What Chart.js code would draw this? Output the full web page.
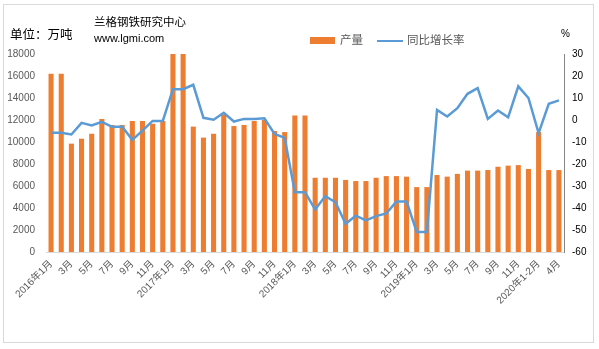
<!DOCTYPE html>
<html>
<head>
<meta charset="utf-8">
<script src="https://cdn.jsdelivr.net/npm/chart.js@4/dist/chart.umd.min.js"></script>
<style>
  html, body { margin:0; padding:0; background:#fff; }
  #wrap { position:relative; width:599px; height:349px; overflow:hidden; }
  #frame { position:absolute; left:3px; top:4px; width:589px; height:337px; border:1px solid #d9d9d9; pointer-events:none; }
  canvas { position:absolute; left:0; top:0; }
  .t { position:absolute; white-space:nowrap; font-family:"Noto Sans CJK SC","Liberation Sans",sans-serif; line-height:1; }
</style>
</head>
<body>
<div id="wrap">
  <canvas id="c" width="599" height="349"></canvas>
  <div id="frame"></div>
  <div class="t" style="left:10px;top:28px;font-size:12.5px;color:#000;">单位：万吨</div>
  <div class="t" style="left:94px;top:16px;font-size:11.5px;color:#000;">兰格钢铁研究中心</div>
  <div class="t" style="left:94px;top:33px;font-size:11px;color:#000;font-family:'Liberation Sans',sans-serif;">www.lgmi.com</div>
  <div style="position:absolute;left:310px;top:37px;width:25px;height:7px;background:#ED7D31;"></div>
  <div class="t" style="left:340px;top:34px;font-size:11.5px;color:#595959;">产量</div>
  <div style="position:absolute;left:377px;top:39.5px;width:26px;height:2.5px;background:#5B9BD5;"></div>
  <div class="t" style="left:407px;top:34px;font-size:11.5px;color:#595959;">同比增长率</div>
  <div class="t" style="left:561px;top:29px;font-size:10px;color:#000;font-family:'Liberation Sans',sans-serif;">%</div>
</div>
<script>
const categories = [
  "2016年1月","2月","3月","4月","5月","6月","7月","8月","9月","10月","11月","12月",
  "2017年1月","2月","3月","4月","5月","6月","7月","8月","9月","10月","11月","12月",
  "2018年1月","2月","3月","4月","5月","6月","7月","8月","9月","10月","11月","12月",
  "2019年1月","2月","3月","4月","5月","6月","7月","8月","9月","10月","11月","12月",
  "2020年1-2月","3月","4月"
];
const output = [
  16200,16200,9850,10300,10750,12100,11550,11550,11900,11900,11650,11900,
  18000,18000,11400,10400,10750,12500,11450,11550,11900,12000,11000,10900,
  12400,12400,6750,6750,6750,6550,6450,6450,6750,6900,6900,6850,
  5900,5900,7000,6850,7100,7400,7400,7450,7750,7850,7900,7550,
  10900,7450,7450
];
const growth = [
  -5.8,-5.8,-6.6,-1.3,-2.5,-0.8,-3.1,-3.1,-9.0,-4.8,-0.4,-0.4,
  14.0,14.0,16.0,1.0,0.1,3.3,-0.7,0.5,0.5,0.8,-6.3,-8.1,
  -32.8,-32.8,-40.7,-34.6,-37.4,-47.2,-43.5,-45.6,-43.7,-42.5,-37.1,-37.1,
  -50.9,-50.9,4.6,1.6,5.4,11.9,14.5,0.5,4.3,1.2,15.3,10.0,
  -6.0,7.4,8.9
];
const leftTicks = [0,2000,4000,6000,8000,10000,12000,14000,16000,18000];
const rightTicks = [-60,-50,-40,-30,-20,-10,0,10,20,30];

const FONT = "'Liberation Sans', 'Noto Sans CJK SC', sans-serif";

new Chart(document.getElementById('c'), {
  data: {
    labels: categories,
    datasets: [
      {
        type: 'line',
        label: '同比增长率',
        data: growth,
        yAxisID: 'y1',
        borderColor: '#5B9BD5',
        backgroundColor: '#5B9BD5',
        borderWidth: 2.5,
        pointRadius: 0,
        tension: 0,
        order: 0
      },
      {
        type: 'bar',
        label: '产量',
        data: output,
        yAxisID: 'y',
        backgroundColor: '#ED7D31',
        barPercentage: 0.5,
        categoryPercentage: 1.0,
        order: 1
      }
    ]
  },
  options: {
    responsive: false,
    animation: false,
    devicePixelRatio: 1,
    layout: { padding: { left: 0, right: 0, top: 54, bottom: 0 } },
    plugins: { legend: { display: false }, tooltip: { enabled: false }, title: { display: false } },
    scales: {
      x: {
        offset: true,
        grid: { display: false, drawTicks: false },
        border: { display: true, color: '#d9d9d9', width: 1 },
        ticks: {
          autoSkip: false,
          minRotation: 45,
          maxRotation: 45,
          padding: 6,
          color: '#595959',
          font: { family: FONT, size: 10 },
          callback: function(v, i) { return i % 2 === 0 ? categories[i] : ''; }
        },
        afterFit: function(s) { s.height = 97; }
      },
      y: {
        position: 'left',
        min: 0, max: 18000,
        grid: { display: false, drawTicks: false },
        border: { display: false },
        afterBuildTicks: function(s) { s.ticks = leftTicks.map(v => ({ value: v })); },
        ticks: {
          padding: 11,
          color: '#595959',
          font: { family: FONT, size: 10 },
          callback: function(v) { return String(v); }
        },
        afterFit: function(s) { s.width = 46; }
      },
      y1: {
        position: 'right',
        min: -60, max: 30,
        grid: { display: false, drawTicks: false },
        border: { display: true, color: '#868686', width: 1 },
        afterBuildTicks: function(s) { s.ticks = rightTicks.map(v => ({ value: v })); },
        ticks: {
          padding: 8,
          color: '#000',
          font: { family: FONT, size: 10 },
          callback: function(v) { return String(v); }
        },
        afterFit: function(s) { s.width = 35; }
      }
    }
  }
});
</script>
</body>
</html>
